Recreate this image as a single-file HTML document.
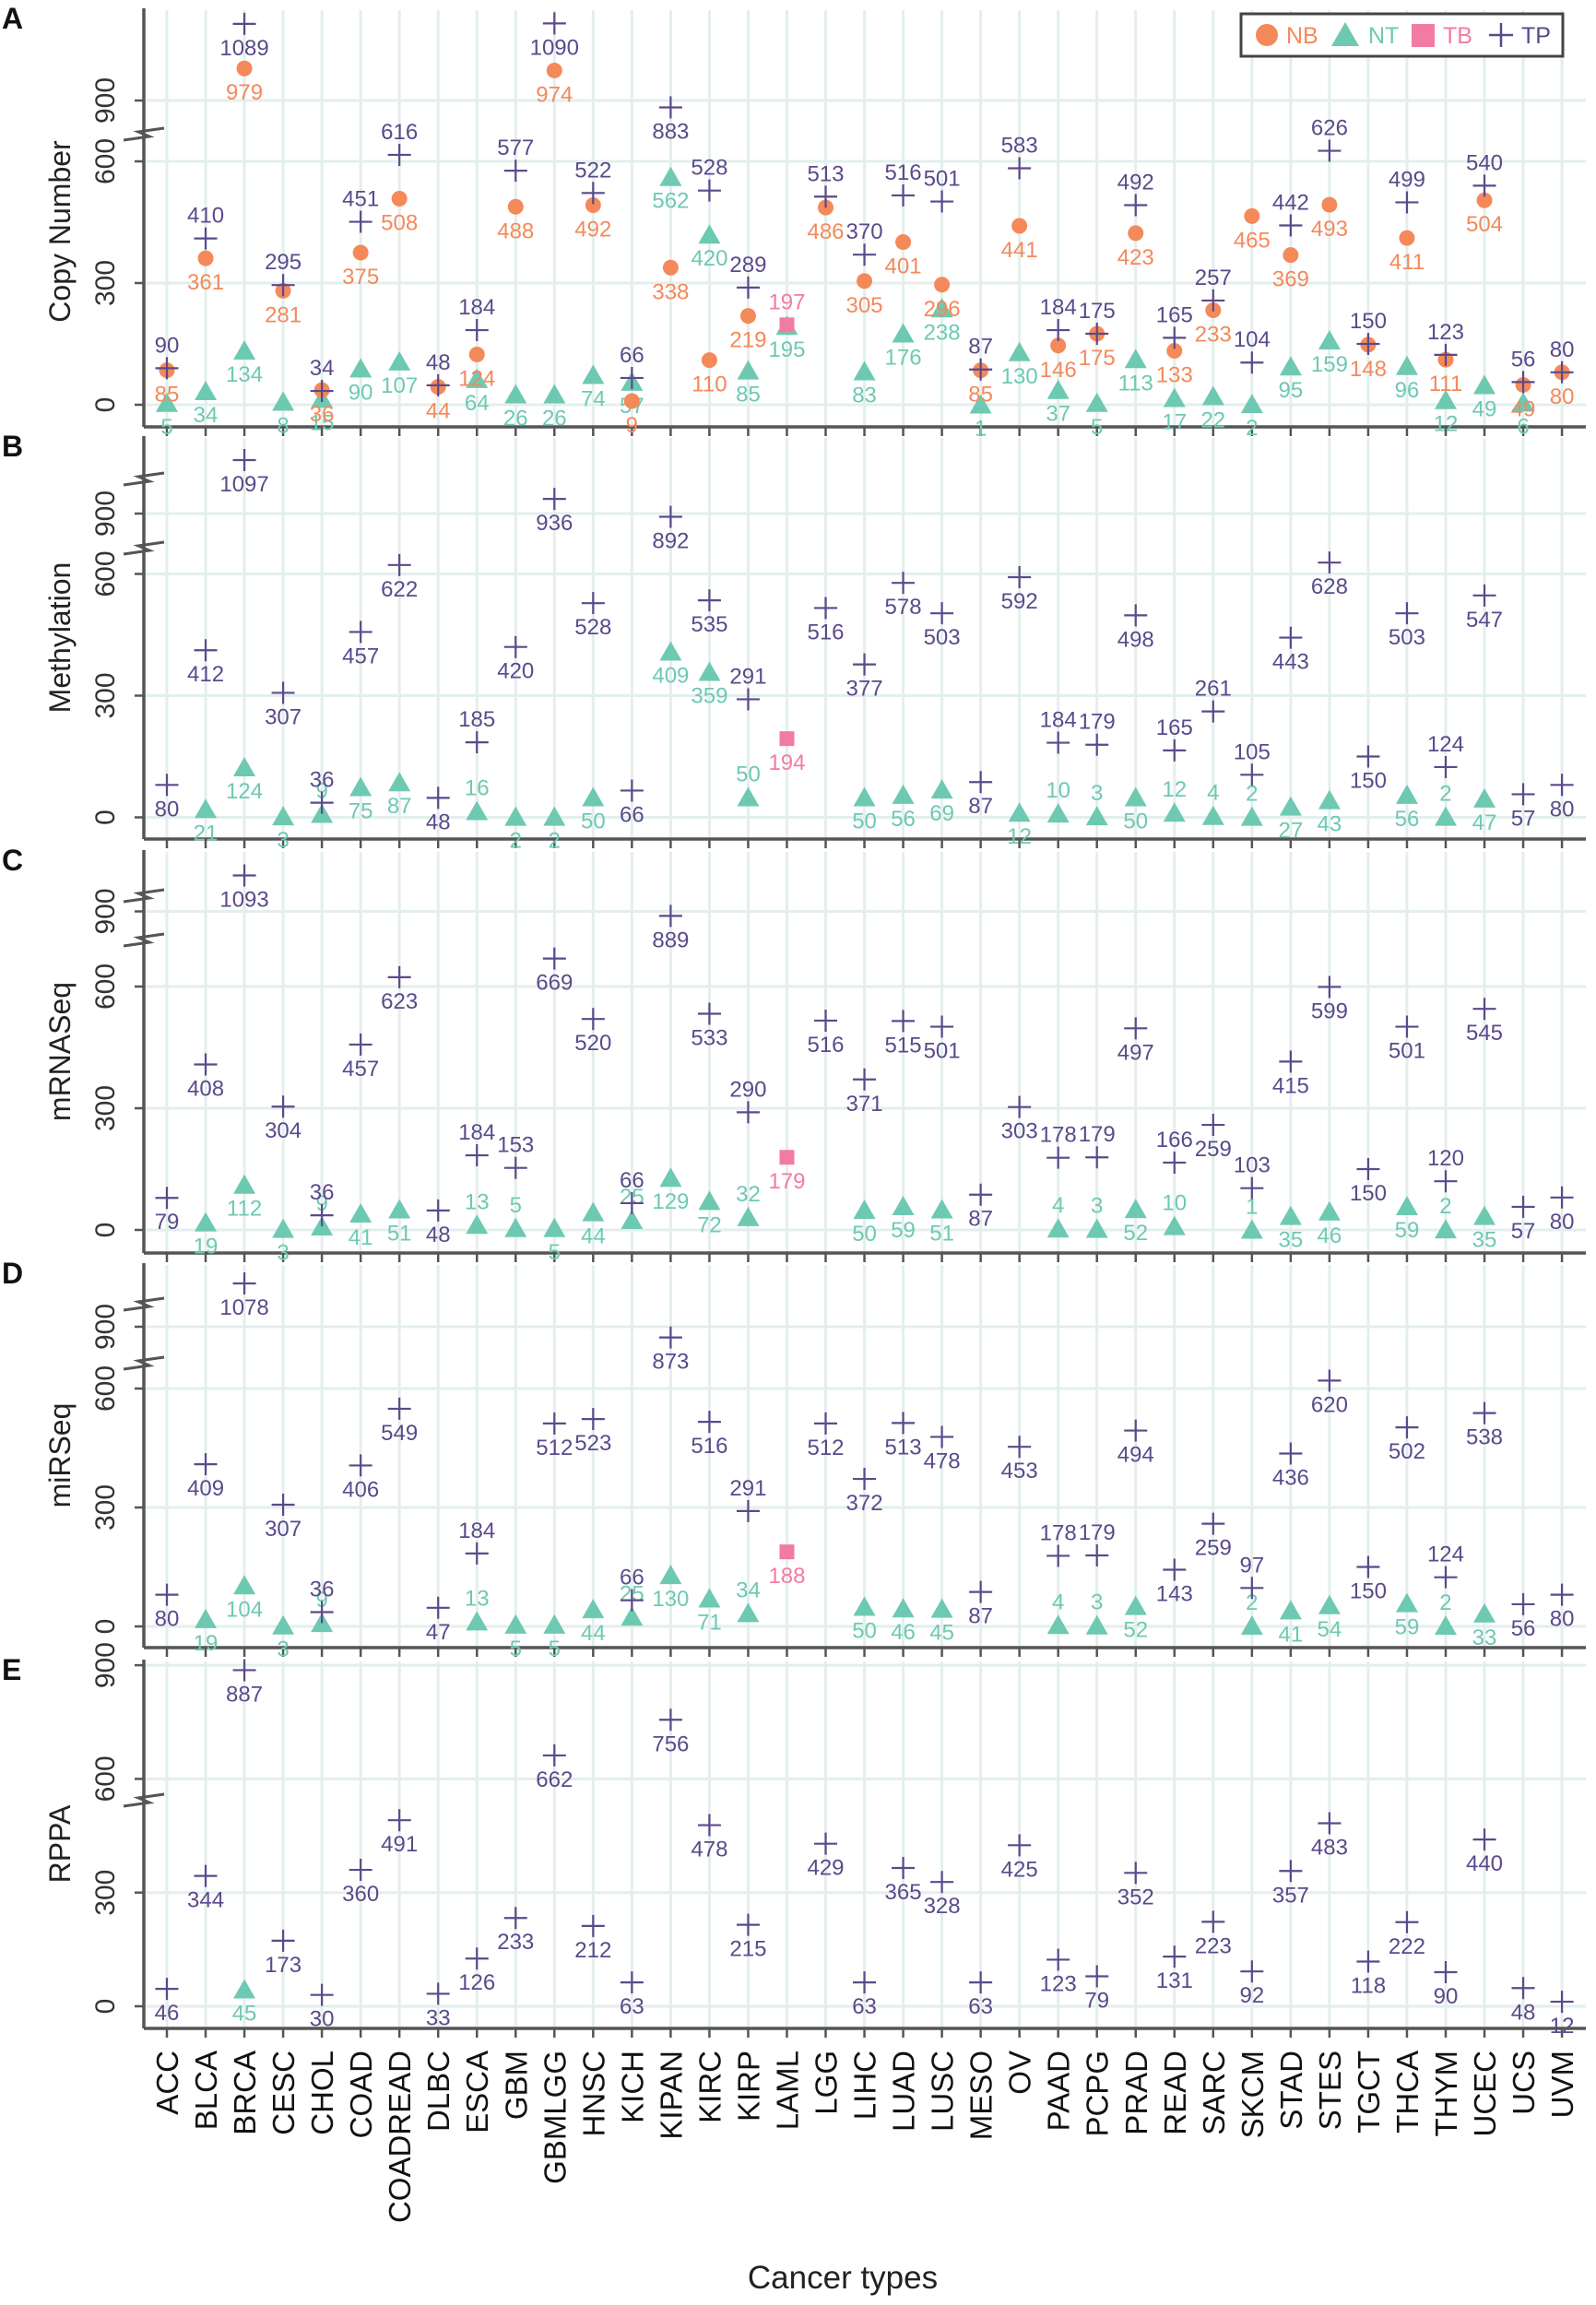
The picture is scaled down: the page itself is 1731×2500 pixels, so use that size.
<!DOCTYPE html>
<html><head><meta charset="utf-8">
<style>
html,body{margin:0;padding:0;background:#fff;}
svg{display:block;font-family:"Liberation Sans",Arial,sans-serif;}
</style></head>
<body>
<svg id="chart" xmlns="http://www.w3.org/2000/svg" width="1731" height="2500" viewBox="0 0 1731 2500">
<g id="grid"></g>
<g id="axes"></g>
<g id="marks"></g>
<g id="legend">
  <rect x="1346" y="15" width="349" height="46" fill="#fff" stroke="#444" stroke-width="3"/>
  <g><circle cx="1374" cy="38" r="12" fill="#f4895a"/><text x="1395" y="47" font-size="25" fill="#f4895a">NB</text></g>
  <g><polygon points="1444,50 1459,24 1474,50" fill="#6ec9b2"/><text x="1484" y="47" font-size="25" fill="#6ec9b2">NT</text></g>
  <g><rect x="1531" y="26" width="25" height="25" fill="#f27ba3"/><text x="1565" y="47" font-size="25" fill="#f27ba3">TB</text></g>
  <g><path d="M1615,38 H1641 M1628,25 V51" stroke="#5b4a8b" stroke-width="2.5"/><text x="1650" y="47" font-size="25" fill="#5b4a8b">TP</text></g>
</g>
<text x="914" y="2482" font-size="35" text-anchor="middle" fill="#222">Cancer types</text>
</svg>
<script>
const categories = ["ACC","BLCA","BRCA","CESC","CHOL","COAD","COADREAD","DLBC","ESCA","GBM","GBMLGG","HNSC","KICH","KIPAN","KIRC","KIRP","LAML","LGG","LIHC","LUAD","LUSC","MESO","OV","PAAD","PCPG","PRAD","READ","SARC","SKCM","STAD","STES","TGCT","THCA","THYM","UCEC","UCS","UVM"];
const panelNames = ["Copy Number","Methylation","mRNASeq","miRSeq","RPPA"];
const panelLetters = ["A","B","C","D","E"];
const yTicks = [0,300,600,900];
const _ = null;
const cnTP = [90,410,1089,295,34,451,616,48,184,577,1090,522,66,883,528,289,_,513,370,516,501,87,583,184,175,492,165,257,104,442,626,150,499,123,540,56,80];
const cnNB = [85,361,979,281,36,375,508,44,124,488,974,492,9,338,110,219,_,486,305,401,296,85,441,146,175,423,133,233,465,369,493,148,411,111,504,49,80];
const cnNT = [5,34,134,8,15,90,107,_,64,26,26,74,57,562,420,85,195,_,83,176,238,1,130,37,5,113,17,22,2,95,159,_,96,12,49,6,_];
const cnTB = [_,_,_,_,_,_,_,_,_,_,_,_,_,_,_,_,197,_,_,_,_,_,_,_,_,_,_,_,_,_,_,_,_,_,_,_,_];
const meTP = [80,412,1097,307,36,457,622,48,185,420,936,528,66,892,535,291,_,516,377,578,503,87,592,184,179,498,165,261,105,443,628,150,503,124,547,57,80];
const meNT = [_,21,124,3,9,75,87,_,16,2,2,50,_,409,359,50,_,_,50,56,69,_,12,10,3,50,12,4,2,27,43,_,56,2,47,_,_];
const meTB = [_,_,_,_,_,_,_,_,_,_,_,_,_,_,_,_,194,_,_,_,_,_,_,_,_,_,_,_,_,_,_,_,_,_,_,_,_];
const rnTP = [79,408,1093,304,36,457,623,48,184,153,669,520,66,889,533,290,_,516,371,515,501,87,303,178,179,497,166,259,103,415,599,150,501,120,545,57,80];
const rnNT = [_,19,112,3,9,41,51,_,13,5,5,44,25,129,72,32,_,_,50,59,51,_,_,4,3,52,10,_,1,35,46,_,59,2,35,_,_];
const rnTB = [_,_,_,_,_,_,_,_,_,_,_,_,_,_,_,_,179,_,_,_,_,_,_,_,_,_,_,_,_,_,_,_,_,_,_,_,_];
const miTP = [80,409,1078,307,36,406,549,47,184,_,512,523,66,873,516,291,_,512,372,513,478,87,453,178,179,494,143,259,97,436,620,150,502,124,538,56,80];
const miNT = [_,19,104,3,9,_,_,_,13,5,5,44,25,130,71,34,_,_,50,46,45,_,_,4,3,52,_,_,2,41,54,_,59,2,33,_,_];
const miTB = [_,_,_,_,_,_,_,_,_,_,_,_,_,_,_,_,188,_,_,_,_,_,_,_,_,_,_,_,_,_,_,_,_,_,_,_,_];
const rpTP = [46,344,887,173,30,360,491,33,126,233,662,212,63,756,478,215,_,429,63,365,328,63,425,123,79,352,131,223,92,357,483,118,222,90,440,48,12];
const rpNT = [_,_,45,_,_,_,_,_,_,_,_,_,_,_,_,_,_,_,_,_,_,_,_,_,_,_,_,_,_,_,_,_,_,_,_,_,_];

const COL = {NB:"#f4895a", NT:"#6ec9b2", TB:"#f27ba3", TP:"#5b4a8b"};
const NS = "http://www.w3.org/2000/svg";
const AX = 156, XR = 1720, X0 = 181, DX = 42.03;
function xs(i){ return X0 + i*DX; }
// panel geometry (layout, not data)
const panels = [
 {top:9, bot:463, y0:439, y900:109, yTop:null, k:0.44, breaks:[146], linear:false, tp:cnTP, nb:cnNB, nt:cnNT, tb:cnTB, tpAbove:true},
 {top:473, bot:910, y0:886.5, y900:557, yTop:[1097,499], k:0.44, breaks:[520,595], linear:false, tp:meTP, nb:null, nt:meNT, tb:meTB},
 {top:922, bot:1359, y0:1334, y900:988.5, yTop:[1093,949.5], k:0.44, breaks:[972,1020], linear:false, tp:rnTP, nb:null, nt:rnNT, tb:rnTB},
 {top:1370, bot:1787, y0:1764, y900:1439, yTop:[1078,1392], k:0.43, breaks:[1415,1479], linear:false, tp:miTP, nb:null, nt:miNT, tb:miTB},
 {top:1800, bot:2200, y0:2176, y900:1806, yTop:null, k:0.411, breaks:[1953], linear:true, tp:rpTP, nb:null, nt:rpNT, tb:null}
];
function ys(p, v){
  if (p.linear) return p.y0 - v*p.k;
  if (v < 750) return p.y0 - v*p.k;
  if (v <= 1000 || !p.yTop) return p.y900 - (v-900)*p.k;
  return p.yTop[1] - (v - p.yTop[0])*p.k;
}
function el(tag, attrs, parent){
  const e = document.createElementNS(NS, tag);
  for (const k in attrs) e.setAttribute(k, attrs[k]);
  parent.appendChild(e);
  return e;
}
const grid = document.getElementById('grid');
const axes = document.getElementById('axes');
const marks = document.getElementById('marks');

panels.forEach((p, pi) => {
  // vertical gridlines
  categories.forEach((c, i) => {
    const g = el('line', {x1:xs(i), x2:xs(i), y1:p.top+2, y2:p.bot, stroke:"#e3efec", "stroke-width":3}, grid);
    
    
  });
  yTicks.forEach(t => {
    const y = ys(p, t);
    const g = el('line', {x1:AX, x2:XR, y1:y, y2:y, stroke:"#e3efec", "stroke-width":3}, grid);
    
    
    const tk = el('line', {x1:AX-10, x2:AX, y1:y, y2:y, stroke:"#555", "stroke-width":2.5}, axes);
    
    
    const tl = el('text', {x:0, y:0, transform:`translate(${AX-32},${y}) rotate(-90)`, "font-size":30, "text-anchor":"middle", fill:"#333"}, axes);
    tl.textContent = t;
    
    
  });
  // axes
  const ya = el('line', {x1:AX, x2:AX, y1:p.top, y2:p.bot, stroke:"#555", "stroke-width":3.5}, axes);
  
  
  const xa = el('line', {x1:AX, x2:XR, y1:p.bot, y2:p.bot, stroke:"#555", "stroke-width":3.5}, axes);
  
  
  categories.forEach((c, i) => {
    const t = el('line', {x1:xs(i), x2:xs(i), y1:p.bot, y2:p.bot+10, stroke:"#555", "stroke-width":2.5}, axes);
    
    
  });
  p.breaks.forEach(by => {
    const b = el('path', {d:`M${AX-22},${by+6} L${AX+6},${by+2} L${AX-6},${by-3} L${AX+22},${by-7}`, stroke:"#555", "stroke-width":3, fill:"none"}, axes);
    
    
  });
  const yt = el('text', {x:0, y:0, transform:`translate(${76},${(p.top+p.bot)/2 - (pi===0?-15:0)}) rotate(-90)`, "font-size":32, "text-anchor":"middle", fill:"#222"}, axes);
  yt.textContent = panelNames[pi];
  
  
  const lt = el('text', {x:2, y:p.top+22, "font-size":32, "font-weight":"bold", fill:"#111"}, axes);
  lt.textContent = panelLetters[pi];
  
  

  function label(x, y, v, color, above){
    const t = el('text', {x:x, y: above ? y-17 : y+34, "font-size":24, "text-anchor":"middle", fill:color}, marks);
    t.textContent = v;
    
    
  }
  categories.forEach((c, i) => {
    const x = xs(i);
    if (p.nt && p.nt[i] != null) {
      const y = ys(p, p.nt[i]);
      const m = el('polygon', {points:`${x-12},${y+10} ${x},${y-11} ${x+12},${y+10}`, fill:COL.NT}, marks);
      
      
      const ab = !p.tpAbove && p.tp[i] != null && p.tp[i] < 300;
      label(x, y, p.nt[i], COL.NT, ab);
    }
    if (p.nb && p.nb[i] != null) {
      const y = ys(p, p.nb[i]);
      const m = el('circle', {cx:x, cy:y, r:8.5, fill:COL.NB}, marks);
      
      
      label(x, y, p.nb[i], COL.NB, false);
    }
    if (p.tb && p.tb[i] != null) {
      const y = ys(p, p.tb[i]);
      const m = el('rect', {x:x-8, y:y-8, width:16, height:16, fill:COL.TB}, marks);
      
      
      label(x, y, p.tb[i], COL.TB, pi===0);
    }
    if (p.tp && p.tp[i] != null) {
      const y = ys(p, p.tp[i]);
      const m = el('path', {d:`M${x-12.5},${y} H${x+12.5} M${x},${y-12} V${y+12}`, stroke:COL.TP, "stroke-width":2.2, fill:"none"}, marks);
      
      
      let ab;
      if (p.tpAbove) ab = p.tp[i] < 800;
      else ab = (p.nt && p.nt[i] != null && p.tp[i] < 300);
      label(x, y, p.tp[i], COL.TP, ab);
    }
  });
});
// x tick labels
categories.forEach((c, i) => {
  const t = el('text', {x:0, y:0, transform:`translate(${xs(i)+12},${2224}) rotate(-90)`, "font-size":33, "text-anchor":"end", fill:"#111"}, axes);
  t.textContent = c;
  
  
});
</script>
</body></html>
